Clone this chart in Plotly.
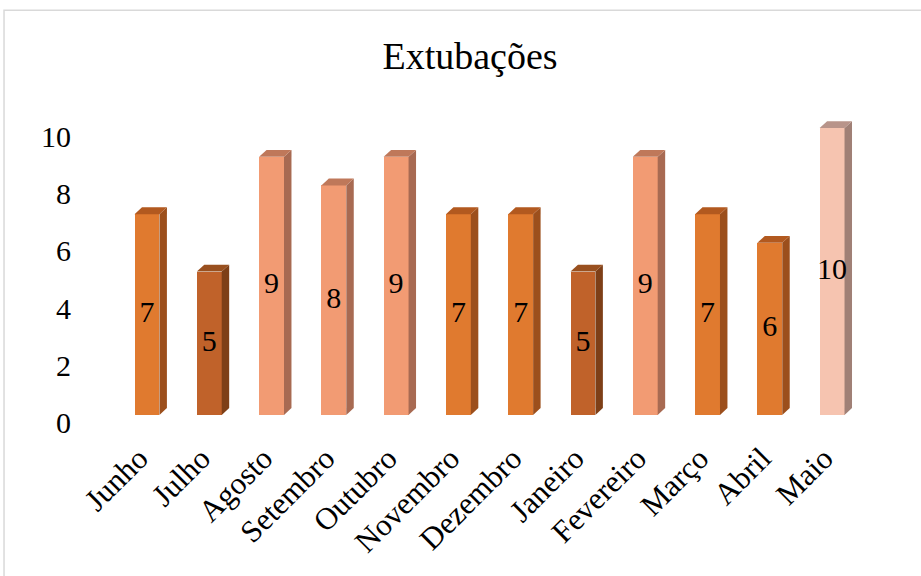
import plotly.graph_objects as go

# Monthly extubation counts
meses = ["Junho", "Julho", "Agosto", "Setembro", "Outubro", "Novembro",
         "Dezembro", "Janeiro", "Fevereiro", "Março", "Abril", "Maio"]
extubacoes = [7, 5, 9, 8, 9, 7, 7, 5, 9, 7, 6, 10]
y_ticks = [0, 2, 4, 6, 8, 10]

# Tone of each bar (front, side, top faces)
tons = ["laranja", "escuro", "salmao", "salmao", "salmao", "laranja",
        "laranja", "escuro", "salmao", "laranja", "laranja", "claro"]
paleta = {
    "laranja": ("#E07A2F", "#9C4F1C", "#B2591F"),
    "escuro": ("#C0622A", "#7E3F17", "#99501F"),
    "salmao": ("#F29B73", "#A86A52", "#BF785A"),
    "claro": ("#F6C4B0", "#A08076", "#B8948A"),
}

FONT = "Liberation Serif, Times New Roman, serif"
W, DX, DY = 0.4, 0.12, 0.24  # bar width and pseudo-3D depth offsets

xs = list(range(len(meses)))
fig = go.Figure()

# side and top faces giving the bars depth
for i, v, t in zip(xs, extubacoes, tons):
    frente, lado, topo = paleta[t]
    xr = i + W / 2
    fig.add_trace(go.Scatter(
        x=[xr, xr + DX, xr + DX, xr, xr],
        y=[0, DY, v + DY, v, 0],
        fill="toself", fillcolor=lado, mode="lines",
        line=dict(width=0), hoverinfo="skip", showlegend=False))
    xl = i - W / 2
    fig.add_trace(go.Scatter(
        x=[xl, xl + DX, xr + DX, xr, xl],
        y=[v, v + DY, v + DY, v, v],
        fill="toself", fillcolor=topo, mode="lines",
        line=dict(width=0), hoverinfo="skip", showlegend=False))

# front faces
fig.add_trace(go.Bar(
    x=xs, y=extubacoes, width=W,
    marker=dict(color=[paleta[t][0] for t in tons], line=dict(width=0)),
    showlegend=False))

# value labels centred in each bar
fig.add_trace(go.Scatter(
    x=xs, y=[v / 2 for v in extubacoes], mode="text",
    text=[str(v) for v in extubacoes],
    textfont=dict(family=FONT, size=30, color="black"),
    hoverinfo="skip", showlegend=False))

# outer frame of the chart area
fig.add_shape(type="rect", xref="paper", yref="paper",
              x0=-0.1047, x1=1.2, y0=-1.0, y1=1.317,
              line=dict(color="#D9D9D9", width=1.5), fillcolor="rgba(0,0,0,0)",
              layer="below")

fig.update_layout(
    width=921, height=576,
    margin=dict(l=88, r=31, t=110, b=151),
    paper_bgcolor="white", plot_bgcolor="white",
    font=dict(family=FONT, color="black"),
    title=dict(text="Extubações", x=470 / 921, xanchor="center",
               y=1 - 56 / 576, yanchor="middle", yref="container",
               font=dict(family=FONT, size=38, color="black")),
    xaxis=dict(range=[-0.947, 11.93], tickvals=xs, ticktext=meses,
               tickangle=-45, showgrid=False, zeroline=False, showline=False,
               ticks="", automargin=False, ticklabelstandoff=8,
               ticklabelshift=-8,
               tickfont=dict(family=FONT, size=31, color="black")),
    yaxis=dict(range=[-0.35, 10.63], tickvals=y_ticks, showgrid=False,
               zeroline=False, showline=False, ticks="", automargin=False,
               ticklabelshift=8, ticklabelstandoff=16,
               tickfont=dict(family=FONT, size=30, color="black")),
    bargap=0,
)

fig.write_html("out.html")
